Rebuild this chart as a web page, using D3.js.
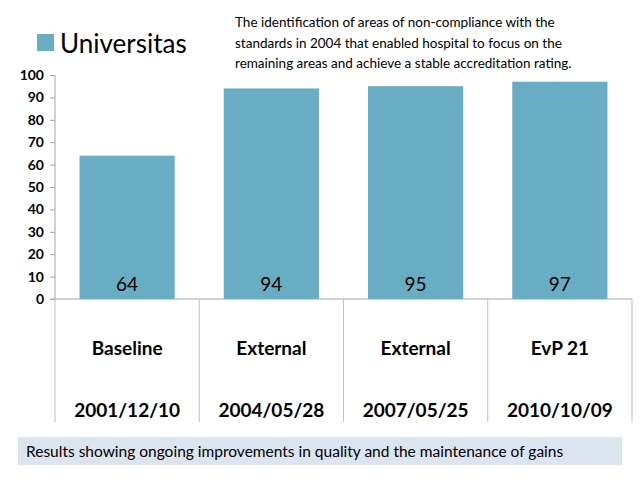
<!DOCTYPE html>
<html><head><meta charset="utf-8">
<script src="https://cdn.jsdelivr.net/npm/d3@7"></script>
<style>body{margin:0;background:#fff}text{font-family:Lato,"Open Sans",sans-serif}</style>
</head><body>
<svg id="chart" width="640" height="480"></svg>
<script>
// chart values
var categories = ["Baseline", "External", "External", "EvP 21"];
var dates = ["2001/12/10", "2004/05/28", "2007/05/25", "2010/10/09"];
var values = [64, 94, 95, 97];
var yTicks = [0, 10, 20, 30, 40, 50, 60, 70, 80, 90, 100];
var note = ["The identification of areas of non-compliance with the",
  "standards in 2004 that enabled hospital to focus on the",
  "remaining areas and achieve a stable accreditation rating."];

var svg = d3.select("#chart");
var barColor = "#69adc5";

var x = d3.scaleBand().domain(d3.range(categories.length)).range([55, 632]).paddingInner(0.34).paddingOuter(0.17);
var xCat = d3.scaleBand().domain(d3.range(categories.length)).range([55, 632]);
var y = d3.scaleLinear().domain([0, 100]).range([299, 75]);

// y axis
var yAxis = svg.append("g").attr("transform", "translate(55,0)")
  .call(d3.axisLeft(y).tickValues(yTicks).tickSize(5).tickPadding(6));
yAxis.select(".domain").attr("stroke", "#a6a6a6").attr("d", "M0,75V299");
yAxis.selectAll(".tick line").attr("stroke", "#a6a6a6");
yAxis.selectAll("text").attr("font-size", 14).attr("font-weight", "bold").attr("fill", "#000");

// baseline and category dividers
svg.append("line").attr("x1", 50).attr("x2", 632).attr("y1", 299).attr("y2", 299).attr("stroke", "#a6a6a6");
svg.selectAll(".div").data(d3.range(categories.length + 1)).enter().append("line")
  .attr("x1", d => 55 + d * xCat.bandwidth()).attr("x2", d => 55 + d * xCat.bandwidth())
  .attr("y1", 299).attr("y2", 422).attr("stroke", "#bfbfbf");

// bars
svg.selectAll(".bar").data(values).enter().append("rect")
  .attr("x", (d, i) => x(i)).attr("width", x.bandwidth())
  .attr("y", d => y(d)).attr("height", d => y(0) - y(d)).attr("fill", barColor);

svg.selectAll(".val").data(values).enter().append("text")
  .attr("x", (d, i) => x(i) + x.bandwidth() / 2).attr("y", 291)
  .attr("text-anchor", "middle").attr("font-size", 19).text(d => d);

svg.selectAll(".cat").data(categories).enter().append("text")
  .attr("x", (d, i) => xCat(i) + xCat.bandwidth() / 2).attr("y", 355)
  .attr("text-anchor", "middle").attr("font-size", 19).attr("font-weight", "bold").text(d => d);
svg.selectAll(".date").data(dates).enter().append("text")
  .attr("x", (d, i) => xCat(i) + xCat.bandwidth() / 2).attr("y", 417)
  .attr("text-anchor", "middle").attr("font-size", 19).attr("font-weight", "bold").text(d => d);

// legend
svg.append("rect").attr("x", 37).attr("y", 34).attr("width", 17).attr("height", 17).attr("fill", barColor);
svg.append("text").attr("x", 60).attr("y", 53).attr("font-size", 26).text("Universitas");

// annotation
svg.selectAll(".note").data(note).enter().append("text")
  .attr("x", 235).attr("y", (d, i) => 27 + i * 20.5).attr("font-size", 13.5).text(d => d);

// bottom caption
svg.append("rect").attr("x", 18).attr("y", 437).attr("width", 604).attr("height", 28).attr("fill", "#dce4ef");
svg.append("text").attr("x", 26).attr("y", 457).attr("font-size", 15.5)
  .text("Results showing ongoing improvements in quality and the maintenance of gains");
</script>
</body></html>
